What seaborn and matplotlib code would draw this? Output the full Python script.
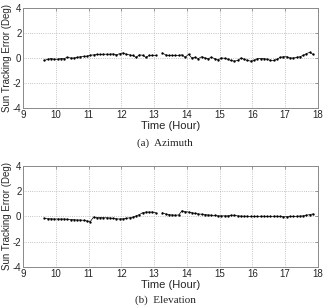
import numpy as np
import pandas as pd
import matplotlib
matplotlib.use('Agg')
import matplotlib.pyplot as plt
import seaborn as sns

#------------------------------------------------------------------------------
# DATA
#------------------------------------------------------------------------------

# sample times (hour), two runs separated by a short gap
time_1 = [9.65, 9.75, 9.85, 9.95, 10.05, 10.15, 10.25, 10.35, 10.45, 10.55,
          10.65, 10.75, 10.85, 10.95, 11.05, 11.15, 11.25, 11.35, 11.45, 11.55,
          11.65, 11.75, 11.85, 11.95, 12.05, 12.15, 12.25, 12.35, 12.45, 12.55,
          12.65, 12.75, 12.85, 12.95, 13.05]
time_2 = [13.25, 13.35, 13.45, 13.55, 13.65, 13.75, 13.85, 13.95, 14.05, 14.15,
          14.25, 14.35, 14.45, 14.55, 14.65, 14.75, 14.85, 14.95, 15.05, 15.15,
          15.25, 15.35, 15.45, 15.55, 15.65, 15.75, 15.85, 15.95, 16.05, 16.15,
          16.25, 16.35, 16.45, 16.55, 16.65, 16.75, 16.85, 16.95, 17.05, 17.15,
          17.25, 17.35, 17.45, 17.55, 17.65, 17.75, 17.85]

azimuth_1 = [-0.2, -0.1, -0.05, -0.1, -0.1, -0.05, -0.05, 0.05, 0.0, 0.0,
             0.05, 0.1, 0.12, 0.15, 0.22, 0.25, 0.28, 0.28, 0.3, 0.3,
             0.3, 0.32, 0.25, 0.35, 0.4, 0.3, 0.25, 0.2, 0.05, 0.25,
             0.22, 0.05, 0.2, 0.22, 0.2]
azimuth_2 = [0.4, 0.25, 0.2, 0.2, 0.2, 0.2, 0.25, 0.05, 0.3, 0.0,
             0.05, -0.05, 0.1, 0.0, -0.05, 0.05, -0.05, -0.15, 0.0, -0.02,
             -0.1, -0.2, -0.25, -0.2, 0.0, -0.1, -0.2, -0.25, -0.2, -0.05,
             -0.05, -0.05, -0.1, -0.2, -0.2, -0.1, 0.05, 0.1, 0.1, 0.0,
             0.0, 0.05, 0.1, 0.2, 0.35, 0.45, 0.3]

elevation_1 = [-0.15, -0.18, -0.18, -0.2, -0.2, -0.2, -0.2, -0.22, -0.25, -0.25,
               -0.28, -0.28, -0.3, -0.35, -0.4, -0.05, -0.08, -0.08, -0.1, -0.1,
               -0.12, -0.15, -0.18, -0.2, -0.18, -0.15, -0.1, -0.05, 0.05, 0.15,
               0.3, 0.35, 0.35, 0.35, 0.3]
elevation_2 = [0.3, 0.2, 0.15, 0.12, 0.1, 0.12, 0.45, 0.38, 0.35, 0.3,
               0.25, 0.2, 0.18, 0.15, 0.12, 0.1, 0.08, 0.05, 0.05, 0.05,
               0.05, 0.1, 0.1, 0.05, 0.03, 0.02, 0.02, 0.0, 0.0, 0.0,
               0.02, 0.02, 0.0, 0.0, 0.02, 0.02, 0.0, -0.02, -0.02, 0.0,
               0.0, 0.02, 0.03, 0.05, 0.1, 0.15, 0.2]

x_ticks = [9, 10, 11, 12, 13, 14, 15, 16, 17, 18]
y_ticks = [-4, -2, 0, 2, 4]
captions = ['(a)  Azimuth', '(b)  Elevation']

#------------------------------------------------------------------------------
# BUILD TABLES
#------------------------------------------------------------------------------

def make_df(v1, v2):
    return pd.DataFrame({
        'time': time_1 + time_2,
        'err': v1 + v2,
        'seg': [1] * len(time_1) + [2] * len(time_2),
    })

az = make_df(azimuth_1, azimuth_2)
el = make_df(elevation_1, elevation_2)

#------------------------------------------------------------------------------
# PLOTTING
#------------------------------------------------------------------------------

sns.set_style('white')
plt.rcParams['font.family'] = ['Liberation Sans', 'DejaVu Sans']
plt.rcParams['xtick.direction'] = 'in'
plt.rcParams['ytick.direction'] = 'in'
plt.rcParams['axes.unicode_minus'] = False

fig = plt.figure(figsize=(3.26, 3.06), dpi=100)
ax1 = fig.add_axes([0.071, 0.647, 0.904, 0.327])
ax2 = fig.add_axes([0.071, 0.127, 0.904, 0.331])

# caption y positions (figure fraction) and vertical alignment
cap_pos = [(0.533, 'center'), (0.003, 'bottom')]

for ax, df, cap, (cy, cva) in zip([ax1, ax2], [az, el], captions, cap_pos):
    sns.lineplot(data=df, x='time', y='err', units='seg', estimator=None,
                 color='black', lw=0.5, marker='o', markersize=1.7,
                 markeredgewidth=0, ax=ax)
    ax.set_xlim(9, 18)
    ax.set_ylim(-4, 4)
    ax.set_xticks(x_ticks)
    ax.set_yticks(y_ticks)
    ax.grid(True, linestyle=':', color='#b0b0b0', lw=0.6)
    for s in ax.spines.values():
        s.set_color('#8a8a8a')
        s.set_linewidth(0.7)
    ax.tick_params(labelsize=7, length=2.5, width=0.6, color='#8a8a8a', pad=1.2,
                   top=True, right=True)
    ax.set_xlabel('Time (Hour)', fontsize=8, labelpad=1)
    ax.set_ylabel('Sun Tracking Error (Deg)', fontsize=7, labelpad=0)
    ax.yaxis.set_label_coords(-0.039, 0.5)
    fig.text(0.506, cy, cap, ha='center', va=cva,
             fontsize=8, family=['Liberation Serif', 'DejaVu Serif'])

fig.savefig('out.png', dpi=100)
plt.close(fig)
